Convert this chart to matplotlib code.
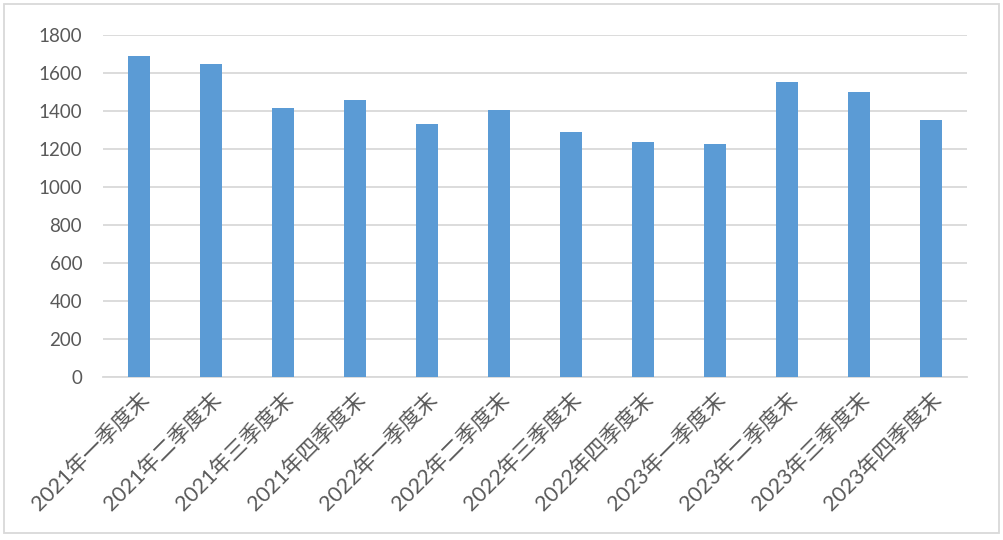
import matplotlib
matplotlib.use("Agg")
import matplotlib.pyplot as plt
from matplotlib.patches import Rectangle

categories = ["2021年一季度末", "2021年二季度末", "2021年三季度末", "2021年四季度末",
              "2022年一季度末", "2022年二季度末", "2022年三季度末", "2022年四季度末",
              "2023年一季度末", "2023年二季度末", "2023年三季度末", "2023年四季度末"]
values = [1689, 1647, 1415, 1456, 1330, 1404, 1288, 1236, 1225, 1553, 1500, 1351]
yticks = [0, 200, 400, 600, 800, 1000, 1200, 1400, 1600, 1800]

plt.rcParams['font.family'] = ['Lato', 'Noto Sans CJK SC', 'DejaVu Sans']
text_color = '#595959'
grid_color = '#D9D9D9'

fig = plt.figure(figsize=(10.04, 5.40), dpi=100)
ax = fig.add_axes([103/1004, 1 - 376.7/540, 864/1004, (376.7 - 34.7)/540])

x = list(range(len(categories)))
ax.bar(x, values, width=0.31, color='#5B9BD5', zorder=3)
ax.set_xlim(-0.5, len(categories) - 0.5)
ax.set_ylim(0, 1800)
ax.set_yticks(yticks)
ax.set_yticklabels([str(v) for v in yticks], fontsize=13.5, color=text_color)
ax.set_xticks(x)
ax.set_xticklabels(categories, rotation=45, ha='right', rotation_mode='anchor',
                   fontsize=15.5, color=text_color)
ax.tick_params(axis='both', length=0)
ax.tick_params(axis='y', pad=15)
ax.tick_params(axis='x', pad=9)
ax.grid(axis='y', color=grid_color, linewidth=1.3, zorder=0)
for s in ['top', 'right', 'left']:
    ax.spines[s].set_visible(False)
ax.spines['bottom'].set_color(grid_color)
ax.spines['bottom'].set_linewidth(1.3)

fig.patches.append(Rectangle((4/1004, 1 - 532.5/540), 995/1004, 528.5/540,
                             transform=fig.transFigure, fill=False,
                             edgecolor=grid_color, linewidth=1.3))

fig.savefig("out.png", dpi=100)
